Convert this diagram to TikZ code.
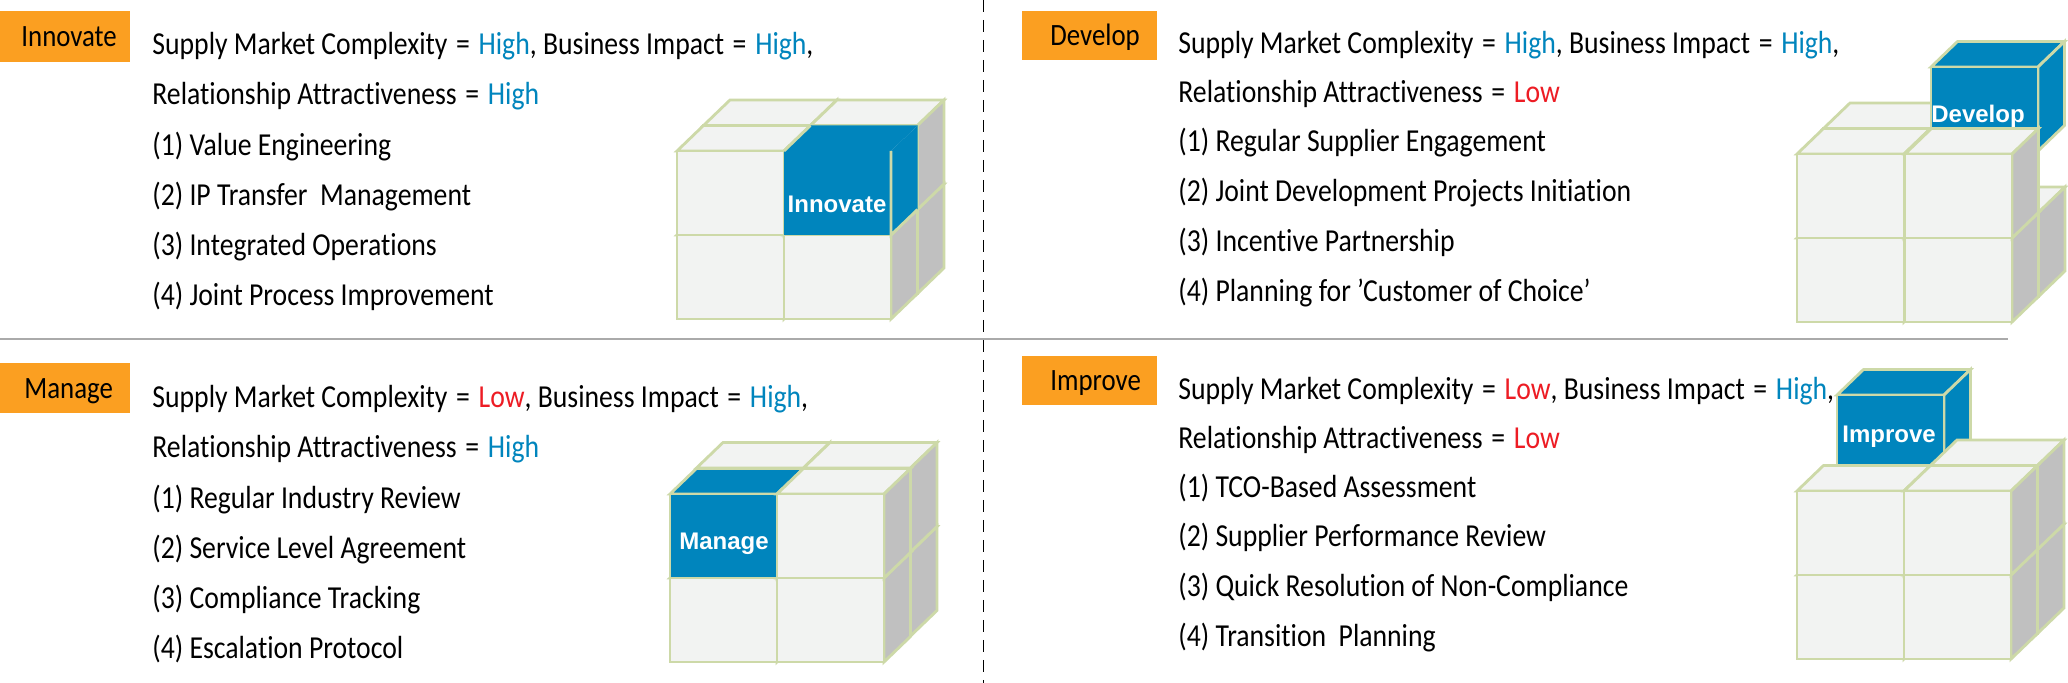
\documentclass[tikz,border=0pt]{standalone}
\usepackage{fontspec}
\setmainfont{Carlito}[FakeStretch=0.866,Ligatures=NoCommon]
\newfontfamily\labelfont{Liberation Sans}
\definecolor{edgegreen}{HTML}{CDD9A8}
\definecolor{cellface}{HTML}{F2F3F2}
\definecolor{cellside}{HTML}{C0C0C0}
\definecolor{cubeblue}{HTML}{0085BD}
\definecolor{tagorange}{HTML}{FB9F21}
\definecolor{hi}{HTML}{0085BD}
\definecolor{lo}{HTML}{ED1C24}
\definecolor{rulegray}{HTML}{AAAAAA}
\tikzset{
  x=0.5pt,y=-0.5pt,
  facepart/.style={draw=edgegreen,fill=cellface,line width=1.4pt,line join=miter},
  sidepart/.style={draw=edgegreen,fill=cellside,line width=1.4pt},
  bluepart/.style={draw=edgegreen,fill=cubeblue,line width=1.4pt},
  bareblue/.style={fill=cubeblue},
  tag/.style={fill=tagorange,text=black,font=\fontsize{15.5}{15.5}\selectfont,anchor=north west,inner sep=0pt,align=left},
  txt/.style={anchor=base west,inner sep=0pt,font=\fontsize{16}{16}\selectfont},
  cubelabel/.style={text=white,font=\labelfont\bfseries\fontsize{12}{12}\selectfont,inner sep=0pt},
  greenedge/.style={draw=edgegreen,line width=1.4pt}
}
% #1 x, #2 y of the front top-left corner, #3,#4,#5 styles of front, top, side
\newcommand{\onecell}[5]{%
  \path[#4] (#1,#2) -- ++(26.5,-25.5) -- ++(107,0) -- ++(-26.5,25.5) -- cycle;
  \path[#5] (#1+107,#2) -- ++(26.5,-25.5) -- ++(0,84) -- ++(-26.5,25.5) -- cycle;
  \path[#3] (#1,#2) rectangle ++(107,84);
}
\newcommand{\plain}[2]{\onecell{#1}{#2}{facepart}{facepart}{sidepart}}
\newcommand{\blue}[2]{\onecell{#1}{#2}{bluepart}{bluepart}{bluepart}}
\newcommand{\hi}[1]{\textcolor{hi}{#1}}
\newcommand{\lo}[1]{\textcolor{lo}{#1}}
\newcommand{\tagstrut}{\rule[-3pt]{0pt}{16pt}}
\newcommand{\eqs}{\ \kern1.2pt=\kern1.2pt\ }
\begin{document}
\begin{tikzpicture}
\useasboundingbox (0,0) rectangle (2068,683);
\fill[white] (0,0) rectangle (2068,683);
% separators
\coordinate (hl) at (0,339); \coordinate (hr) at (2008,339);
\coordinate (vt) at (983,0); \coordinate (vb) at (983,683);
\draw[rulegray,line width=0.8pt] (hl) -- (hr);
\draw[black,line width=0.5pt,dash pattern=on 6pt off 4pt] (vt) -- (vb);

% Innovate
\node[tag,text width=65pt,minimum height=25.5pt] (t1) at (0,11) {\hspace*{10.5pt}Innovate\tagstrut};
\node[txt] (a1) at (152,55) {Supply Market Complexity\eqs\hi{High}, Business Impact\eqs\hi{High},};
\node[txt] (a2) at (152,105) {Relationship Attractiveness\eqs\hi{High}};
\node[txt] (a3) at (152,155.5) {(1) Value Engineering};
\node[txt] (a4) at (152,206) {(2) IP Transfer\ \ Management};
\node[txt] (a5) at (152,256) {(3) Integrated Operations};
\node[txt] (a6) at (152,306) {(4) Joint Process Improvement};
% cube Innovate
\plain{703.5}{209.5}\plain{810.5}{209.5}
\plain{677}{235}\plain{784}{235}
\plain{703.5}{125.5}\plain{810.5}{125.5}
\plain{677}{151}
\onecell{784}{151}{bareblue}{bareblue}{bareblue}
\draw[greenedge] (784,151) -- (810.5,125.5);
\draw[greenedge] (891,151) -- (891,235) -- (917.5,209.5);
\node[cubelabel] (c1) at (837,204) {Innovate};

% Develop
\node[tag,text width=67.5pt,minimum height=24.5pt] (t2) at (1022,11) {\hspace*{14pt}Develop\tagstrut};
\node[txt] (b1) at (1178,54) {Supply Market Complexity\eqs\hi{High}, Business Impact\eqs\hi{High},};
\node[txt] (b2) at (1178,103) {Relationship Attractiveness\eqs\lo{Low}};
\node[txt] (b3) at (1178,152) {(1) Regular Supplier Engagement};
\node[txt] (b4) at (1178,202) {(2) Joint Development Projects Initiation};
\node[txt] (b5) at (1178,252) {(3) Incentive Partnership};
\node[txt] (b6) at (1178,302) {(4) Planning for 'Customer of Choice'};
% cube Develop
\plain{1823.5}{212.5}\plain{1931.5}{212.5}
\plain{1797}{238}\plain{1905}{238}
\plain{1823.5}{128.5}
\blue{1931}{67}
\plain{1797}{154}\plain{1905}{154}
\node[cubelabel] (c2) at (1978,116) {Develop};

% Manage
\node[tag,text width=65pt,minimum height=25pt] (t3) at (0,363) {\hspace*{12pt}Manage\tagstrut};
\node[txt] (c1a) at (152,408) {Supply Market Complexity\eqs\lo{Low}, Business Impact\eqs\hi{High},};
\node[txt] (c2a) at (152,458) {Relationship Attractiveness\eqs\hi{High}};
\node[txt] (c3a) at (152,508.5) {(1) Regular Industry Review};
\node[txt] (c4a) at (152,559) {(2) Service Level Agreement};
\node[txt] (c5a) at (152,609) {(3) Compliance Tracking};
\node[txt] (c6a) at (152,659) {(4) Escalation Protocol};
% cube Manage
\plain{696.5}{552}\plain{803.5}{552}
\plain{670}{578}\plain{777}{578}
\plain{696.5}{468}\plain{803.5}{468}
\blue{670}{494}
\plain{777}{494}
\node[cubelabel] (c3) at (724,544) {Manage};

% Improve
\node[tag,text width=67.5pt,minimum height=24.5pt] (t4) at (1022,356) {\hspace*{14pt}Improve\tagstrut};
\node[txt] (d1) at (1178,400) {Supply Market Complexity\eqs\lo{Low}, Business Impact\eqs\hi{High},};
\node[txt] (d2) at (1178,449) {Relationship Attractiveness\eqs\lo{Low}};
\node[txt] (d3) at (1178,498) {(1) TCO-Based Assessment};
\node[txt] (d4) at (1178,547) {(2) Supplier Performance Review};
\node[txt] (d5) at (1178,597) {(3) Quick Resolution of Non-Compliance};
\node[txt] (d6) at (1178,647) {(4) Transition\ \ Planning};
% cube Improve
\plain{1823.5}{549.5}\plain{1930.5}{549.5}
\plain{1797}{575}\plain{1904}{575}
\blue{1837}{395}
\plain{1930.5}{465.5}
\plain{1797}{491}\plain{1904}{491}
\node[cubelabel] (c4) at (1889,437) {Improve};
\end{tikzpicture}
\end{document}
